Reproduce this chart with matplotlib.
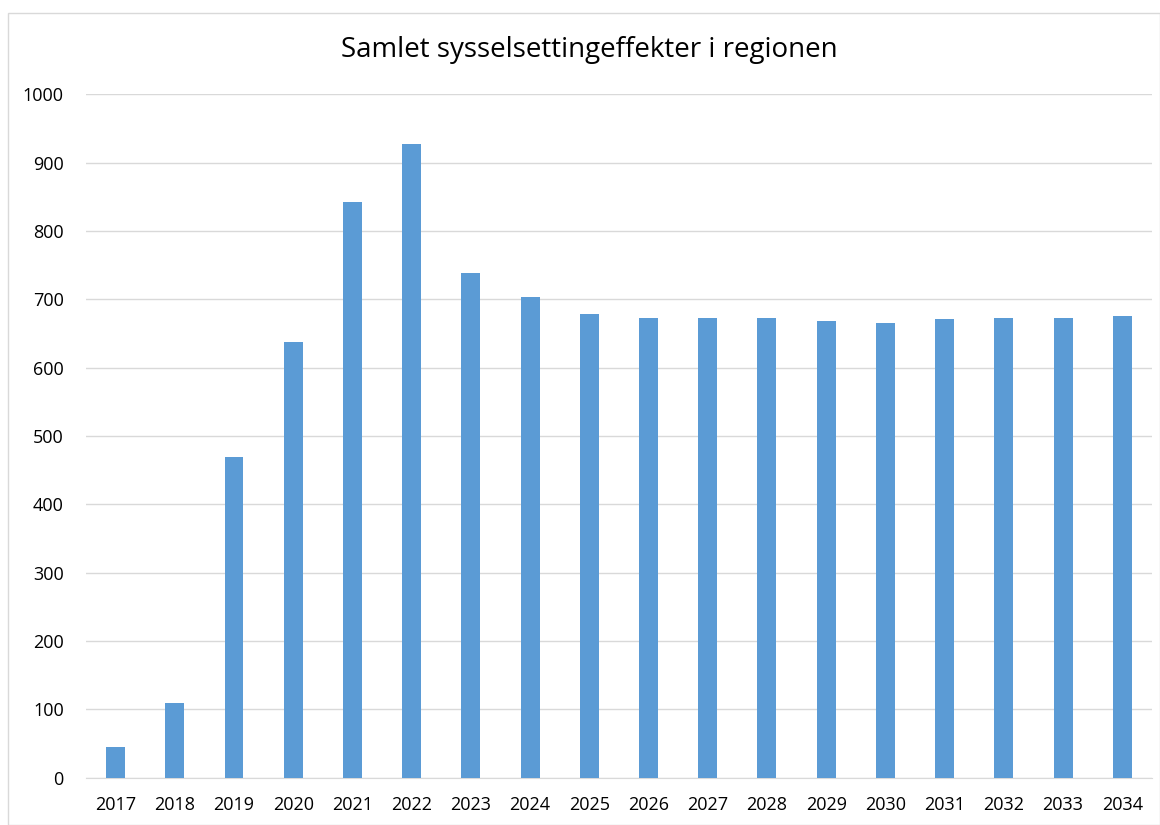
import numpy as np
import matplotlib.pyplot as plt
from matplotlib.patches import Rectangle

years = [str(y) for y in range(2017, 2035)]
verdier = [45, 110, 470, 638, 843, 928, 738, 703, 678, 673, 673, 672, 669, 666, 671, 672, 672, 676]

plt.rcParams['font.family'] = ['Open Sans', 'DejaVu Sans']

fig = plt.figure(figsize=(11.6, 8.25), dpi=100)
ax = fig.add_axes([0.0741, 0.0573, 0.9189, 0.8284])

x = np.arange(len(years))
ax.bar(x, verdier, width=0.32, color='#5B9BD5', zorder=3)

ax.set_xlim(-0.5, len(years) - 0.5)
ax.set_ylim(0, 1000)
ax.set_yticks(np.arange(0, 1001, 100))
ax.set_xticks(x)
ax.set_xticklabels(years)
ax.grid(axis='y', color='#d9d9d9', linewidth=1, zorder=0)
for s in ['top', 'right', 'left']:
    ax.spines[s].set_visible(False)
ax.spines['bottom'].set_color('#d9d9d9')
ax.tick_params(length=0, labelsize=13, colors='black', pad=13)
ax.tick_params(axis='y', pad=16)

fig.text(0.508, 0.940, 'Samlet sysselsettingeffekter i regionen', ha='center', va='center', fontsize=20)

# ramme rundt figuren
fig.patches.append(Rectangle((8/1160, 0), 1 - 8/1160, 1 - 13/825, transform=fig.transFigure,
                             fill=False, edgecolor='#d9d9d9', linewidth=1))

fig.savefig('out.png', dpi=100)
